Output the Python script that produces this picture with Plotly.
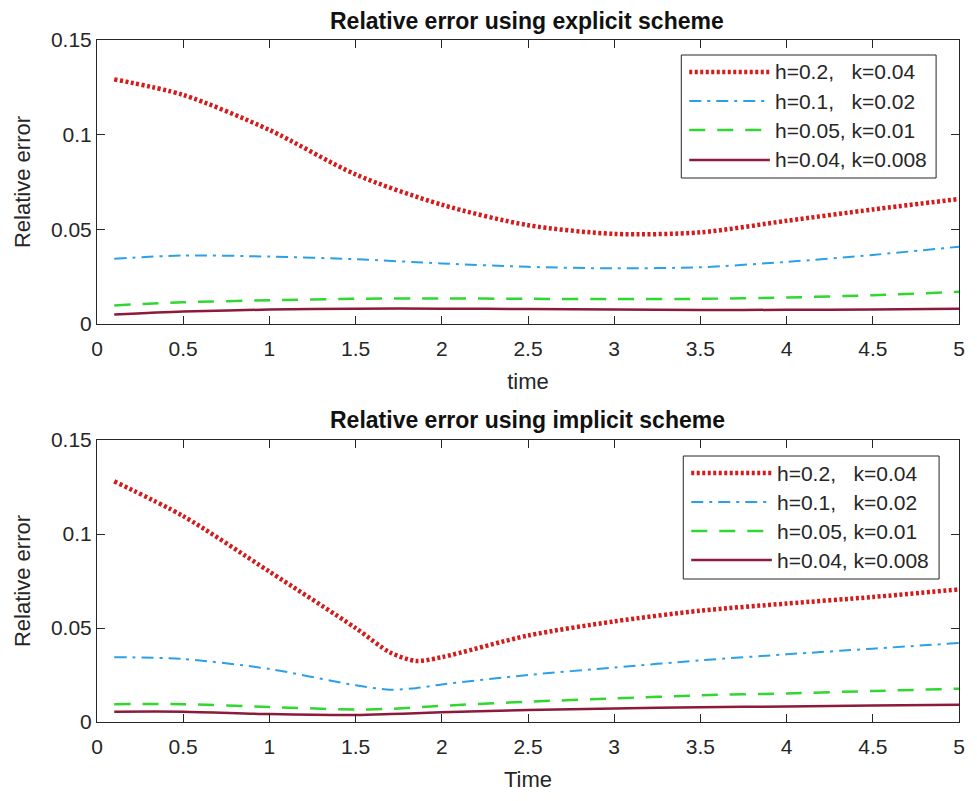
import plotly.graph_objects as go

# ---------------- data ----------------
t = [0.1, 0.5, 1.0, 1.5, 2.0, 2.5, 3.0, 3.5, 4.0, 4.5, 5.0]

labels = ["h=0.2,   k=0.04", "h=0.1,   k=0.02", "h=0.05, k=0.01", "h=0.04, k=0.008"]

exp_h02 = [0.1292, 0.1210, 0.1025, 0.0790, 0.0630, 0.0522, 0.0476, 0.0484, 0.0545, 0.0605, 0.0660]
exp_h01 = [0.0345, 0.0362, 0.0356, 0.0342, 0.0320, 0.0302, 0.0294, 0.0300, 0.0328, 0.0365, 0.0408]
exp_h005 = [0.0098, 0.0115, 0.0125, 0.0133, 0.0135, 0.0133, 0.0132, 0.0133, 0.0140, 0.0152, 0.0170]
exp_h004 = [0.0050, 0.0066, 0.0076, 0.0081, 0.0081, 0.0079, 0.0076, 0.0074, 0.0075, 0.0077, 0.0080]

t_imp = [0.1, 0.5, 1.0, 1.5, 1.7, 1.85, 2.0, 2.5, 3.0, 3.5, 4.0, 4.5, 5.0]
imp_h02 = [0.1280, 0.1095, 0.0800, 0.0500, 0.0370, 0.0325, 0.0345, 0.0460, 0.0535, 0.0592, 0.0630, 0.0665, 0.0705]
imp_h01 = [0.0345, 0.0335, 0.0282, 0.0195, 0.0172, 0.0180, 0.0200, 0.0250, 0.0290, 0.0328, 0.0360, 0.0390, 0.0420]
imp_h005 = [0.0095, 0.0095, 0.0080, 0.0066, 0.0070, 0.0078, 0.0086, 0.0108, 0.0125, 0.0142, 0.0152, 0.0165, 0.0177]
imp_h004 = [0.0055, 0.0055, 0.0042, 0.0037, 0.0042, 0.0047, 0.0052, 0.0064, 0.0072, 0.0078, 0.0083, 0.0088, 0.0092]

x_ticks = [0, 0.5, 1, 1.5, 2, 2.5, 3, 3.5, 4, 4.5, 5]
x_ticktext = ["0", "0.5", "1", "1.5", "2", "2.5", "3", "3.5", "4", "4.5", "5"]
y_ticks = [0, 0.05, 0.1, 0.15]
y_ticktext = ["0", "0.05", "0.1", "0.15"]

# ---------------- styles ----------------
styles = [
    dict(color="#d41a1a", width=4.5, dash="3px,2.5px"),
    dict(color="#2aa0e8", width=2, dash="12px,6px,3px,6px"),
    dict(color="#2ed82e", width=2.5, dash="16px,12px"),
    dict(color="#8c1a3a", width=2.5, dash="solid"),
]

FONT = "Liberation Sans, Arial, sans-serif"

fig = go.Figure()
exp_series = [exp_h02, exp_h01, exp_h005, exp_h004]
imp_series = [imp_h02, imp_h01, imp_h005, imp_h004]
for ys, st in zip(exp_series, styles):
    fig.add_trace(go.Scatter(x=t, y=ys, mode="lines", line=dict(shape="spline", smoothing=0.8, **st),
                             xaxis="x", yaxis="y", showlegend=False, hoverinfo="skip"))
for ys, st in zip(imp_series, styles):
    fig.add_trace(go.Scatter(x=t_imp, y=ys, mode="lines", line=dict(shape="spline", smoothing=0.8, **st),
                             xaxis="x2", yaxis="y2", showlegend=False, hoverinfo="skip"))

# layout geometry (pixels)
W, H = 977, 801
L, R, T, B = 97, 14, 40, 79
PW = W - L - R
PH = H - T - B

def px2x(px):
    return (px - L) / PW

def py2y(py):
    return (H - B - py) / PH

top_dom = [py2y(324), 1.0]
bot_dom = [0.0, py2y(440)]

axis_common = dict(showline=True, linecolor="#262626", linewidth=1, mirror="ticks",
                   ticks="inside", ticklen=8, tickcolor="#262626", showgrid=False, zeroline=False,
                   tickfont=dict(family=FONT, size=21, color="#262626"))

xaxis_extra = dict(ticklabelstandoff=6)

fig.update_layout(
    width=W, height=H,
    margin=dict(l=L, r=R, t=T, b=B),
    paper_bgcolor="white", plot_bgcolor="white",
    font=dict(family=FONT, color="#262626"),
    xaxis=dict(domain=[0, 1], anchor="y", range=[0, 5], tickvals=x_ticks, ticktext=x_ticktext,
               title=dict(text="time", font=dict(size=22, family=FONT), standoff=14),
               **xaxis_extra, **axis_common),
    yaxis=dict(domain=top_dom, anchor="x", range=[0, 0.15], tickvals=y_ticks, ticktext=y_ticktext,
               title=dict(text="Relative error", font=dict(size=22, family=FONT), standoff=14), **axis_common),
    xaxis2=dict(domain=[0, 1], anchor="y2", range=[0, 5], tickvals=x_ticks, ticktext=x_ticktext,
                title=dict(text="Time", font=dict(size=22, family=FONT), standoff=14),
                **xaxis_extra, **axis_common),
    yaxis2=dict(domain=bot_dom, anchor="x2", range=[0, 0.15], tickvals=y_ticks, ticktext=y_ticktext,
                title=dict(text="Relative error", font=dict(size=22, family=FONT), standoff=14), **axis_common),
)

# titles
fig.add_annotation(text="<b>Relative error using explicit scheme</b>", xref="paper", yref="paper",
                   x=px2x(529), y=py2y(21), showarrow=False, xanchor="center", yanchor="middle",
                   font=dict(family=FONT, size=23, color="#111111"))
fig.add_annotation(text="<b>Relative error using implicit scheme</b>", xref="paper", yref="paper",
                   x=px2x(529), y=py2y(420), showarrow=False, xanchor="center", yanchor="middle",
                   font=dict(family=FONT, size=23, color="#111111"))

# manual legends
def add_legend(x0, y0, x1, y1, rows_y):
    fig.add_shape(type="rect", xref="paper", yref="paper", x0=px2x(x0), x1=px2x(x1),
                  y0=py2y(y1), y1=py2y(y0), line=dict(color="#262626", width=1), fillcolor="white")
    for lab, st, ry in zip(labels, styles, rows_y):
        fig.add_shape(type="line", xref="paper", yref="paper", x0=px2x(x0 + 8), x1=px2x(x0 + 89),
                      y0=py2y(ry), y1=py2y(ry),
                      line=dict(color=st["color"], width=st["width"], dash=st["dash"]))
        fig.add_annotation(text=lab, xref="paper", yref="paper", x=px2x(x0 + 92), y=py2y(ry),
                           showarrow=False, xanchor="left", yanchor="middle",
                           font=dict(family=FONT, size=21, color="#262626"))

add_legend(684, 55, 940, 178, [72, 101, 130, 160])
add_legend(686, 456, 943, 579, [473, 502, 531, 560])

fig.write_html("out.html")
